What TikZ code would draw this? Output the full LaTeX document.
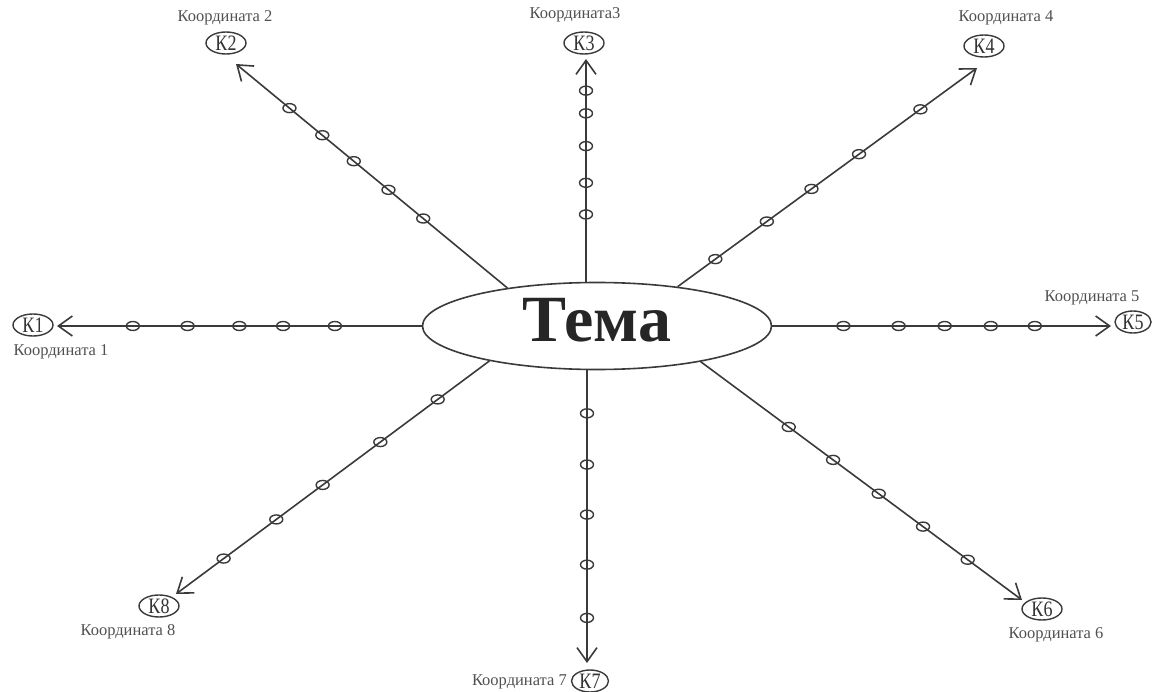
\documentclass[tikz,border=0pt]{standalone}
\usepackage{fontspec}
\usepackage{graphicx}
\setmainfont{Liberation Serif}
\usetikzlibrary{arrows.meta,shapes.geometric}
\definecolor{lncol}{HTML}{3A3A3A}
\definecolor{txtcol}{HTML}{333333}
\definecolor{labcol}{HTML}{505050}
\newcommand\kname[1]{\scalebox{0.82}[1]{#1}}
\begin{document}
\begin{tikzpicture}[x=1pt,y=-1pt,
  ln/.style={draw=lncol, line width=1.6pt},
  arr/.style={ln, -{Straight Barb[length=14pt,width=20pt,line width=1.6pt]}},
  bead/.style={draw=lncol, ellipse, minimum width=13pt, minimum height=9pt, inner sep=0pt, line width=1.4pt},
  knode/.style={draw=lncol, ellipse, minimum width=40pt, minimum height=22pt, inner sep=0pt, line width=1.4pt, font=\fontsize{22}{22}\selectfont, text=txtcol},
  klabel/.style={font=\fontsize{16.5}{17}\selectfont, text=labcol, inner sep=0pt},
  topic/.style={draw=lncol, ellipse, minimum width=349pt, minimum height=87pt, inner sep=0pt, line width=1.6pt},
]
\useasboundingbox (0,0) rectangle (1153,692);

% centre
\node[topic] (T) at (597,326) {};
\node[font=\fontsize{66}{66}\selectfont\bfseries, text=black!85, inner sep=0pt] (tema) at (597,320) {Тема};

% arrow tips
\coordinate (t1) at (57,326);
\coordinate (t2) at (236,64);
\coordinate (t3) at (586,59);
\coordinate (t4) at (977,68);
\coordinate (t5) at (1111,326);
\coordinate (t6) at (1022,600);
\coordinate (t7) at (587,663);
\coordinate (t8) at (176,594);

% K nodes
\node[knode] (k1) at (33,325) {\kname{К1}};
\node[knode] (k2) at (226,43) {\kname{К2}};
\node[knode] (k3) at (584,43) {\kname{К3}};
\node[knode] (k4) at (984,46) {\kname{К4}};
\node[knode, minimum width=36pt] (k5) at (1133,322) {\kname{К5}};
\node[knode] (k6) at (1042,609) {\kname{К6}};
\node[knode, minimum width=37pt] (k7) at (590,681) {\kname{К7}};
\node[knode] (k8) at (159,606) {\kname{К8}};

% labels
\node[klabel] (l1) at (61,352) {Координата 1};
\node[klabel] (l2) at (225,18) {Координата 2};
\node[klabel] (l3) at (575,15) {Координата3};
\node[klabel] (l4) at (1006,18) {Координата 4};
\node[klabel] (l5) at (1092,298) {Координата 5};
\node[klabel] (l6) at (1056,635) {Координата 6};
\node[klabel, anchor=east] (l7) at (567,682) {Координата 7};
\node[klabel] (l8) at (128,632) {Координата 8};

% connectors with beads
\draw[arr] (T.west) -- (t1)
  node[bead,pos=0.238] (b11) {} node[bead,pos=0.380] (b12) {} node[bead,pos=0.500] (b13) {}
  node[bead,pos=0.642] (b14) {} node[bead,pos=0.792] (b15) {};
\draw[arr] (T.157) -- (t2)
  node[bead,pos=0.310] (b21) {} node[bead,pos=0.438] (b22) {} node[bead,pos=0.566] (b23) {}
  node[bead,pos=0.682] (b24) {} node[bead,pos=0.803] (b25) {};
\draw[arr] (T.north -| t3) -- (t3)
  node[bead,pos=0.302] (b31) {} node[bead,pos=0.444] (b32) {} node[bead,pos=0.609] (b33) {}
  node[bead,pos=0.756] (b34) {} node[bead,pos=0.858] (b35) {};
\draw[arr] (T.26) -- (t4)
  node[bead,pos=0.126] (b41) {} node[bead,pos=0.298] (b42) {} node[bead,pos=0.447] (b43) {}
  node[bead,pos=0.606] (b44) {} node[bead,pos=0.811] (b45) {};
\draw[arr] (T.east) -- (t5)
  node[bead,pos=0.210] (b51) {} node[bead,pos=0.373] (b52) {} node[bead,pos=0.509] (b53) {}
  node[bead,pos=0.645] (b54) {} node[bead,pos=0.775] (b55) {};
\draw[arr] (T.-19) -- (t6)
  node[bead,pos=0.274] (b61) {} node[bead,pos=0.412] (b62) {} node[bead,pos=0.554] (b63) {}
  node[bead,pos=0.692] (b64) {} node[bead,pos=0.831] (b65) {};
\draw[arr] (T.south -| t7) -- (t7)
  node[bead,pos=0.147] (b71) {} node[bead,pos=0.322] (b72) {} node[bead,pos=0.493] (b73) {}
  node[bead,pos=0.664] (b74) {} node[bead,pos=0.846] (b75) {};
\draw[arr] (T.198) -- (t8)
  node[bead,pos=0.165] (b81) {} node[bead,pos=0.348] (b82) {} node[bead,pos=0.532] (b83) {}
  node[bead,pos=0.680] (b84) {} node[bead,pos=0.848] (b85) {};
\end{tikzpicture}
\end{document}
